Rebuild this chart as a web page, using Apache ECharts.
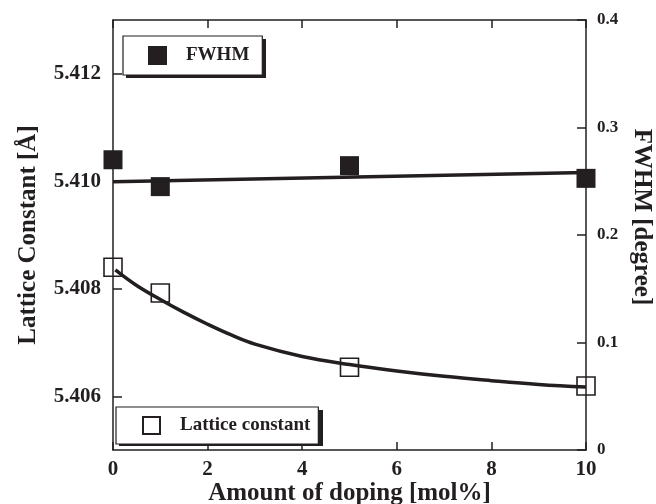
<!DOCTYPE html>
<html>
<head>
<meta charset="utf-8">
<script src="https://cdn.jsdelivr.net/npm/echarts@6/dist/echarts.min.js"></script>
<style>html,body{margin:0;padding:0;background:#fff;}#c{width:656px;height:504px;}</style>
</head>
<body>
<div id="c"></div>
<script>
// ---- data ----
const doping = [0, 1, 5, 10];
const fwhm = [0.270, 0.245, 0.2645, 0.2527];
const lattice = [5.40840, 5.40792, 5.40654, 5.40619];
// fitted lines as drawn in the picture (read at several x positions)
const fwhmFitX = [0, 10];
const fwhmFitY = [0.2496, 0.2581];
const latFitX = [0.05, 0.5, 1, 1.5, 2, 2.5, 3, 4, 5, 6, 7, 8, 9, 10];
const latFitY = [5.40835, 5.40806, 5.40780, 5.40756, 5.40734, 5.40714, 5.40697, 5.40674, 5.40659, 5.40647, 5.40637, 5.40629, 5.40622, 5.40617];
const xTicks = [0, 2, 4, 6, 8, 10];
const latTicks = [5.406, 5.408, 5.410, 5.412];
const fwhmTicks = [0, 0.1, 0.2, 0.3, 0.4];

const INK = '#231f20';
const FONT = "'Liberation Serif','Times New Roman',serif";
const pair = (xs, ys) => xs.map((x, i) => [x, ys[i]]);

const chart = echarts.init(document.getElementById('c'), null, {renderer: 'canvas'});
const axisLine = () => ({show: true, onZero: false, lineStyle: {color: INK, width: 1.5}});
const tickStyle = () => ({color: INK, width: 1.5});

chart.setOption({
  animation: false,
  backgroundColor: '#fff',
  grid: {left: 113, right: 70, top: 20, bottom: 54, containLabel: false, outerBoundsMode: 'none'},
  xAxis: [{
    type: 'value', min: 0, max: 10, interval: 2, position: 'bottom',
    axisLine: axisLine(),
    axisTick: {show: true, inside: true, length: 8, lineStyle: tickStyle(), customValues: xTicks},
    axisLabel: {color: INK, fontFamily: FONT, fontWeight: 'bold', fontSize: 21, margin: 9, customValues: xTicks},
    splitLine: {show: false},
    name: 'Amount of doping [mol%]', nameLocation: 'middle', nameGap: 31, nameMoveOverlap: false,
    nameTextStyle: {color: INK, fontFamily: FONT, fontWeight: 'bold', fontSize: 25}
  }, {
    type: 'value', min: 0, max: 10, interval: 2, position: 'top',
    axisLine: axisLine(),
    axisTick: {show: true, inside: true, length: 8, lineStyle: tickStyle()},
    axisLabel: {show: false}, splitLine: {show: false}
  }],
  yAxis: [{
    type: 'value', min: 5.405, max: 5.413, position: 'left',
    axisLine: axisLine(),
    axisTick: {show: true, inside: true, length: 9, lineStyle: tickStyle(), customValues: latTicks},
    axisLabel: {color: INK, fontFamily: FONT, fontWeight: 'bold', fontSize: 21, margin: 12,
      customValues: latTicks, formatter: v => v.toFixed(3)},
    splitLine: {show: false},
    name: 'Lattice Constant [Å]', nameLocation: 'middle', nameGap: 72, nameMoveOverlap: false,
    nameTextStyle: {color: INK, fontFamily: FONT, fontWeight: 'bold', fontSize: 25}
  }, {
    type: 'value', min: 0, max: 0.4, interval: 0.1, position: 'right',
    axisLine: axisLine(),
    axisTick: {show: true, inside: true, length: 9, lineStyle: tickStyle(), customValues: fwhmTicks},
    axisLabel: {color: INK, fontFamily: FONT, fontWeight: 'bold', fontSize: 17, margin: 11,
      customValues: fwhmTicks, formatter: v => (v === 0 ? '0' : v.toFixed(1))},
    splitLine: {show: false}
  }],
  graphic: [{
    type: 'text', x: 641, y: 217, rotation: -Math.PI / 2,
    style: {text: 'FWHM [degree]', fill: INK, font: "bold 25px 'Liberation Serif','Times New Roman',serif",
      textAlign: 'center', textVerticalAlign: 'middle'}
  }, {
    type: 'rect', shape: {x: 126, y: 39, width: 140, height: 39}, style: {fill: INK}, z: 1
  }, {
    type: 'rect', shape: {x: 119, y: 410, width: 204, height: 36}, style: {fill: INK}, z: 1
  }],
  legend: [{
    data: ['FWHM'], left: 123, top: 36, orient: 'horizontal', z: 6,
    backgroundColor: '#fff', borderColor: INK, borderWidth: 1.2, borderRadius: 0,
    padding: [10, 13, 10, 25], itemWidth: 19, itemHeight: 19,
    textStyle: {color: INK, fontFamily: FONT, fontWeight: 'bold', fontSize: 19, padding: [0, 0, 0, 14]}
  }, {
    data: ['Lattice constant'], left: 116, top: 407, orient: 'horizontal', z: 6,
    backgroundColor: '#fff', borderColor: INK, borderWidth: 1.2, borderRadius: 0,
    padding: [9, 8, 9, 26], itemWidth: 17, itemHeight: 17,
    textStyle: {color: INK, fontFamily: FONT, fontWeight: 'bold', fontSize: 19, padding: [0, 0, 0, 15]}
  }],
  series: [{
    name: 'FWHM fit', type: 'line', xAxisIndex: 0, yAxisIndex: 1,
    data: pair(fwhmFitX, fwhmFitY), showSymbol: false, symbol: 'none',
    lineStyle: {color: INK, width: 3.5}, z: 3, silent: true
  }, {
    name: 'Lattice fit', type: 'line', xAxisIndex: 0, yAxisIndex: 0,
    data: pair(latFitX, latFitY), showSymbol: false, symbol: 'none', smooth: 0.4,
    lineStyle: {color: INK, width: 3.5}, z: 3, silent: true
  }, {
    name: 'FWHM', type: 'scatter', xAxisIndex: 0, yAxisIndex: 1,
    data: pair(doping, fwhm), symbol: 'rect', symbolSize: 19,
    itemStyle: {color: INK, opacity: 1}, z: 4
  }, {
    name: 'Lattice constant', type: 'scatter', xAxisIndex: 0, yAxisIndex: 0,
    data: pair(doping, lattice), symbol: 'rect', symbolSize: 18,
    itemStyle: {color: 'rgba(255,255,255,0)', borderColor: INK, borderWidth: 1.6, opacity: 1}, z: 2
  }]
});
</script>
</body>
</html>
